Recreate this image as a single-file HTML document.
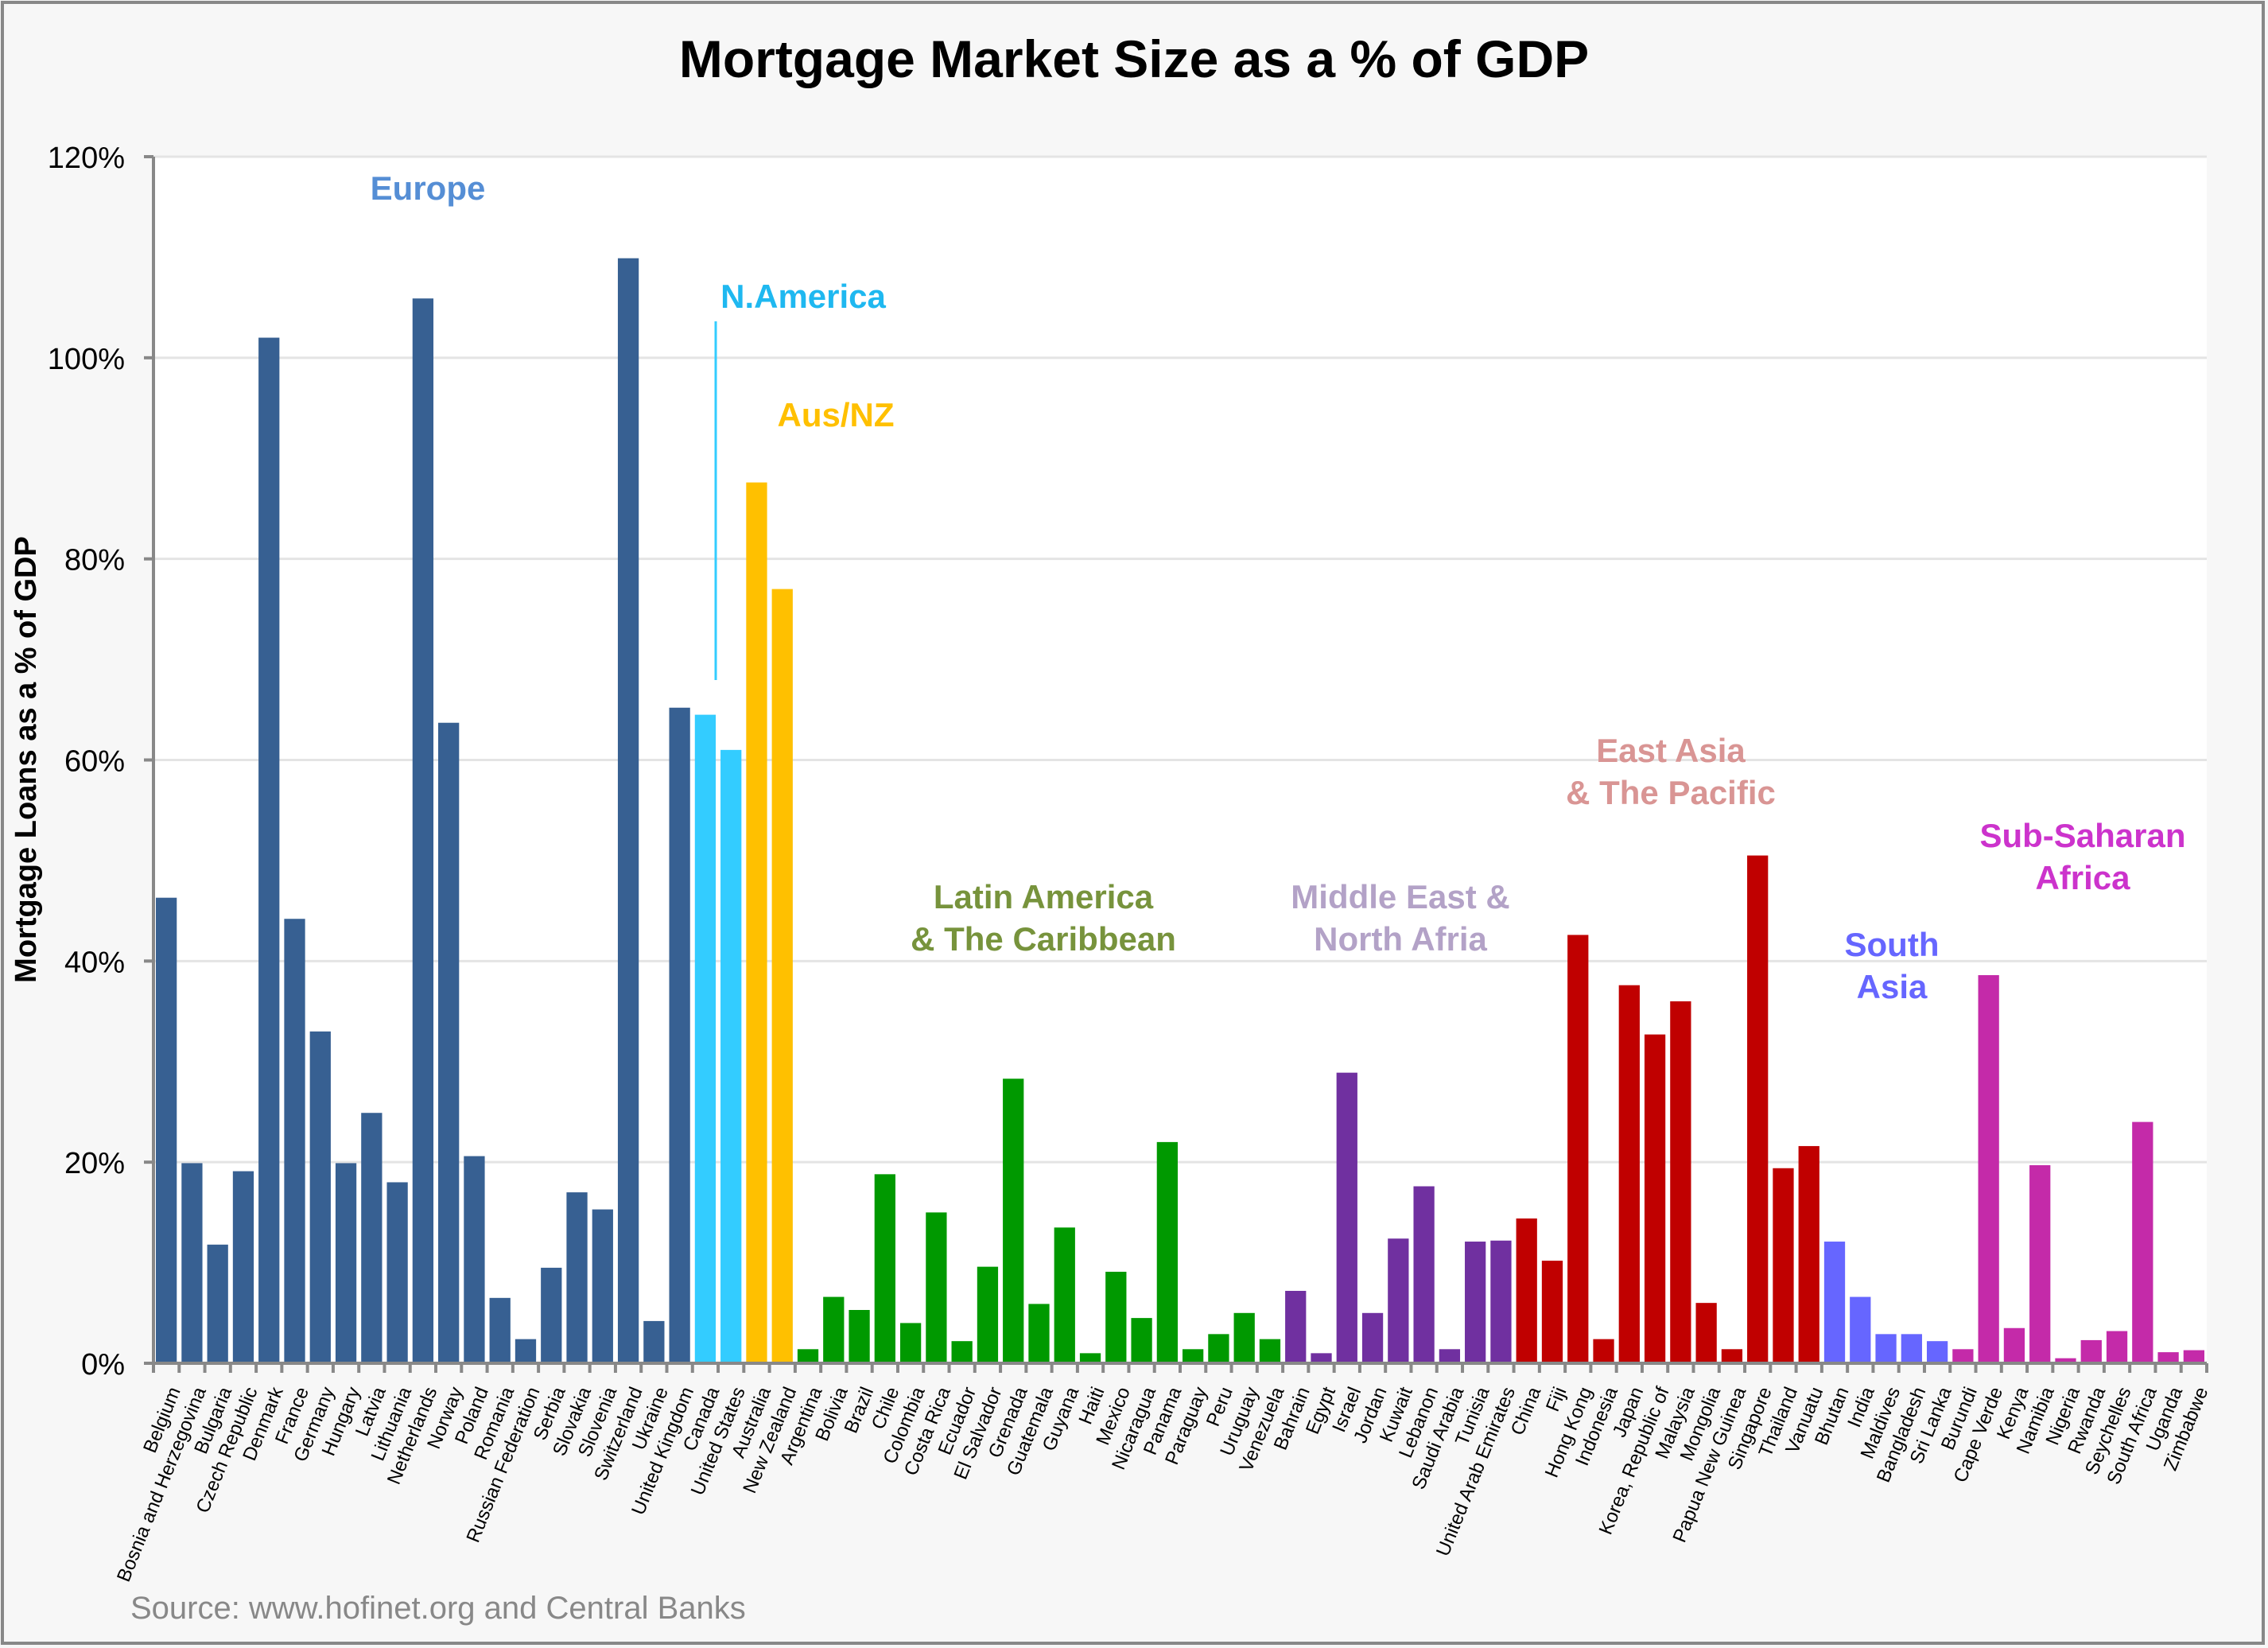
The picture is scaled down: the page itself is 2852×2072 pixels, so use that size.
<!DOCTYPE html>
<html><head><meta charset="utf-8">
<style>
html,body{margin:0;padding:0;background:#f7f7f7;}
svg{display:block;font-family:"Liberation Sans",sans-serif;}
</style></head>
<body>
<svg id="c" xmlns="http://www.w3.org/2000/svg" width="2852" height="2072" viewBox="0 0 2852 2072">
<rect x="0" y="0" width="2852" height="2072" fill="#f7f7f7"/>
<rect x="3" y="3" width="2843" height="2063" fill="none" stroke="#888" stroke-width="4"/>
<text x="1426" y="97" text-anchor="middle" font-size="66" font-weight="bold" fill="#000">Mortgage Market Size as a % of GDP</text>
<rect x="193" y="197" width="2582" height="1517" fill="#fff"/>
<g id="grid"></g>
<g id="bars"></g>
<g id="labels"></g>
<text transform="translate(45,955) rotate(-90)" text-anchor="middle" font-size="38" font-weight="bold">Mortgage Loans as a % of GDP</text>
<text x="164" y="2035" font-size="40" fill="#888">Source: www.hofinet.org and Central Banks</text>
<g font-weight="bold" font-size="42" text-anchor="middle">
<text x="538" y="251" fill="#558ed5">Europe</text>
<text x="1010" y="387" fill="#1fb8f0">N.America</text>
<line x1="900" y1="404" x2="900" y2="855" stroke="#33ccff" stroke-width="3"/>
<text x="1051" y="536" fill="#ffc000">Aus/NZ</text>
<text x="1312" y="1142" fill="#77933c">Latin America</text>
<text x="1312" y="1195" fill="#77933c">&amp; The Caribbean</text>
<text x="1761" y="1142" fill="#b3a2c7">Middle East &amp;</text>
<text x="1761" y="1195" fill="#b3a2c7">North Afria</text>
<text x="2101" y="958" fill="#d99594">East Asia</text>
<text x="2101" y="1011" fill="#d99594">&amp; The Pacific</text>
<text x="2379" y="1202" fill="#6666ff">South</text>
<text x="2379" y="1255" fill="#6666ff">Asia</text>
<text x="2619" y="1065" fill="#cc33cc">Sub-Saharan</text>
<text x="2619" y="1118" fill="#cc33cc">Africa</text>
</g>
</svg>
<script>
var data=[
["Belgium",46.3,0],["Bosnia and Herzegovina",19.9,0],["Bulgaria",11.8,0],["Czech Republic",19.1,0],["Denmark",102,0],["France",44.2,0],["Germany",33,0],["Hungary",19.9,0],["Latvia",24.9,0],["Lithuania",18,0],["Netherlands",105.9,0],["Norway",63.7,0],["Poland",20.6,0],["Romania",6.5,0],["Russian Federation",2.4,0],["Serbia",9.5,0],["Slovakia",17,0],["Slovenia",15.3,0],["Switzerland",109.9,0],["Ukraine",4.2,0],["United Kingdom",65.2,0],
["Canada",64.5,1],["United States",61,1],
["Australia",87.6,2],["New Zealand",77,2],
["Argentina",1.4,3],["Bolivia",6.6,3],["Brazil",5.3,3],["Chile",18.8,3],["Colombia",4,3],["Costa Rica",15,3],["Ecuador",2.2,3],["El Salvador",9.6,3],["Grenada",28.3,3],["Guatemala",5.9,3],["Guyana",13.5,3],["Haiti",1,3],["Mexico",9.1,3],["Nicaragua",4.5,3],["Panama",22,3],["Paraguay",1.4,3],["Peru",2.9,3],["Uruguay",5,3],["Venezuela",2.4,3],
["Bahrain",7.2,4],["Egypt",1,4],["Israel",28.9,4],["Jordan",5,4],["Kuwait",12.4,4],["Lebanon",17.6,4],["Saudi Arabia",1.4,4],["Tunisia",12.1,4],["United Arab Emirates",12.2,4],
["China",14.4,5],["Fiji",10.2,5],["Hong Kong",42.6,5],["Indonesia",2.4,5],["Japan",37.6,5],["Korea, Republic of",32.7,5],["Malaysia",36,5],["Mongolia",6,5],["Papua New Guinea",1.4,5],["Singapore",50.5,5],["Thailand",19.4,5],["Vanuatu",21.6,5],
["Bhutan",12.1,6],["India",6.6,6],["Maldives",2.9,6],["Bangladesh",2.9,6],["Sri Lanka",2.2,6],
["Burundi",1.4,7],["Cape Verde",38.6,7],["Kenya",3.5,7],["Namibia",19.7,7],["Nigeria",0.5,7],["Rwanda",2.3,7],["Seychelles",3.2,7],["South Africa",24,7],["Uganda",1.1,7],["Zimbabwe",1.3,7]];
var cols=["#376092","#33ccff","#ffc000","#009900","#7030a0","#c00000","#6666ff","#c42aa9"];
var NS="http://www.w3.org/2000/svg";
function el(t,a,p,txt){var e=document.createElementNS(NS,t);for(var k in a)e.setAttribute(k,a[k]);if(txt!==undefined)e.textContent=txt;p.appendChild(e);return e;}
var L=193,R=2775,T=197,B=1714,H=B-T,n=data.length,w=(R-L)/n;
var g=document.getElementById("grid"),b=document.getElementById("bars"),lb=document.getElementById("labels");
for(var i=0;i<=6;i++){var y=B-H*i/6;
 if(i>0)el("line",{x1:L,y1:y,x2:R,y2:y,stroke:"#e4e4e4","stroke-width":3},g);
 el("line",{x1:L-12,y1:y,x2:L,y2:y,stroke:"#888","stroke-width":4},g);
 el("text",{x:157,y:y+14,"text-anchor":"end","font-size":38},g,(i*20)+"%");}
el("line",{x1:L,y1:T,x2:L,y2:B,stroke:"#888","stroke-width":4},g);
for(var j=0;j<n;j++){var d=data[j],x=L+j*w,h=H*d[1]/120;
 el("rect",{x:x+3,y:B-h,width:w-6,height:h,fill:cols[d[2]]},b);
 el("line",{x1:x,y1:B,x2:x,y2:B+12,stroke:"#888","stroke-width":4},b);
 el("text",{transform:"translate("+(x+w/2+18)+",1748) rotate(-68)","text-anchor":"end","font-size":24},lb,d[0]);}
el("line",{x1:R,y1:B,x2:R,y2:B+12,stroke:"#888","stroke-width":4},b);
el("line",{x1:L-12,y1:B,x2:R,y2:B,stroke:"#888","stroke-width":4},b);
</script>
</body></html>
